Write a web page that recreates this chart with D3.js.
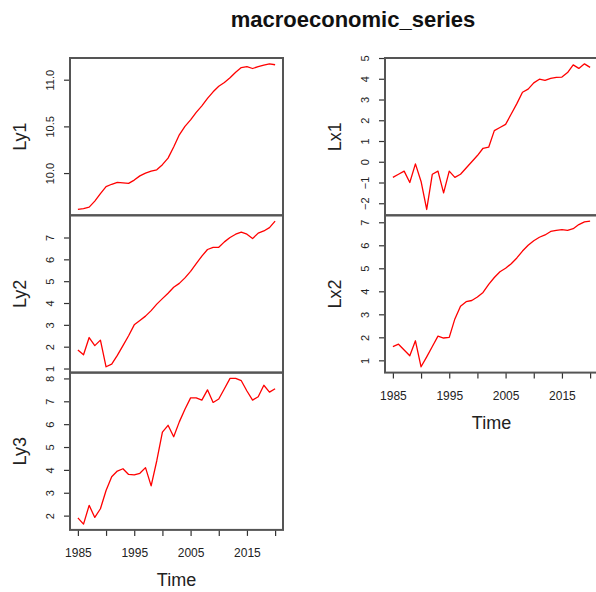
<!DOCTYPE html>
<html>
<head>
<meta charset="utf-8">
<script src="https://cdn.jsdelivr.net/npm/d3@7"></script>
<style>
  body { margin: 0; background: #fff; }
  svg { display: block; font-family: "Liberation Sans", Arial, sans-serif; }
</style>
</head>
<body>
<script>
// annual series, 1985..2020
const years = d3.range(1985, 2021);

const ly1 = [9.61, 9.62, 9.635, 9.70, 9.78, 9.855, 9.88, 9.90, 9.895, 9.89,
  9.925, 9.97, 10.0, 10.02, 10.035, 10.09, 10.16, 10.28, 10.41, 10.50,
  10.57, 10.65, 10.72, 10.80, 10.87, 10.93, 10.97, 11.02, 11.08, 11.13,
  11.14, 11.12, 11.14, 11.155, 11.17, 11.16];
const ly2 = [1.85, 1.63, 2.42, 2.05, 2.3, 1.08, 1.2, 1.6, 2.05, 2.5,
  3.0, 3.2, 3.4, 3.65, 3.95, 4.2, 4.45, 4.72, 4.9, 5.15,
  5.45, 5.8, 6.15, 6.45, 6.55, 6.55, 6.8, 7.0, 7.15, 7.25,
  7.15, 6.95, 7.2, 7.3, 7.45, 7.75];
const ly3 = [1.9, 1.63, 2.45, 1.92, 2.3, 3.1, 3.7, 3.95, 4.05, 3.8,
  3.78, 3.85, 4.1, 3.3, 4.4, 5.65, 5.95, 5.45, 6.1, 6.65,
  7.15, 7.15, 7.05, 7.5, 6.95, 7.1, 7.55, 8.0, 8.0, 7.9,
  7.45, 7.05, 7.2, 7.7, 7.4, 7.55];
const lx1 = [-0.75, -0.6, -0.45, -1.0, -0.1, -0.95, -2.3, -0.6, -0.45, -1.5,
  -0.45, -0.75, -0.6, -0.3, 0.0, 0.3, 0.65, 0.7, 1.5, 1.65,
  1.8, 2.3, 2.8, 3.35, 3.5, 3.8, 3.98, 3.92, 4.02, 4.07,
  4.08, 4.3, 4.67, 4.5, 4.72, 4.55];
const lx2 = [1.6, 1.7, 1.45, 1.2, 1.85, 0.72, 1.15, 1.6, 2.05, 1.97,
  2.0, 2.8, 3.35, 3.55, 3.6, 3.75, 3.95, 4.3, 4.6, 4.85,
  5.0, 5.2, 5.45, 5.75, 6.0, 6.2, 6.35, 6.45, 6.6, 6.65,
  6.68, 6.65, 6.72, 6.9, 7.02, 7.05];

const ly1Ticks = [10.0, 10.5, 11.0];
const ly2Ticks = [1, 2, 3, 4, 5, 6, 7];
const ly3Ticks = [2, 3, 4, 5, 6, 7, 8];
const lx1Ticks = [-2, -1, 0, 1, 2, 3, 4, 5];
const lx2Ticks = [1, 2, 3, 4, 5, 6, 7];

const xTicks = [1985, 1990, 1995, 2000, 2005, 2010, 2015, 2020];
const xLabels = [1985, 1995, 2005, 2015];

const title = "macroeconomic_series";

const width = 596, height = 592;
const colW = 213, rowH = 157.3, topY = 58;
const colX = [70, 385];

const panels = [
  {name: "Ly1", values: ly1, ticks: ly1Ticks, fmt: d3.format(".1f"), col: 0, row: 0},
  {name: "Ly2", values: ly2, ticks: ly2Ticks, fmt: d3.format("d"), col: 0, row: 1},
  {name: "Ly3", values: ly3, ticks: ly3Ticks, fmt: d3.format("d"), col: 0, row: 2, bottom: true},
  {name: "Lx1", values: lx1, ticks: lx1Ticks, fmt: d3.format("d"), col: 1, row: 0},
  {name: "Lx2", values: lx2, ticks: lx2Ticks, fmt: d3.format("d"), col: 1, row: 1, bottom: true}
];

const svg = d3.select("body").append("svg")
  .attr("width", width)
  .attr("height", height);

svg.append("text")
  .attr("x", 353)
  .attr("y", 27)
  .attr("text-anchor", "middle")
  .attr("font-size", 22)
  .attr("font-weight", "bold")
  .attr("fill", "#111")
  .text(title);

// R style: pad the data range by 4% on each side
function padded(ext) {
  const d = (ext[1] - ext[0]) * 0.04;
  return [ext[0] - d, ext[1] + d];
}

const xDomain = padded(d3.extent(years));

panels.forEach(function(p) {
  const x0 = colX[p.col];
  const y0 = topY + p.row * rowH;

  const x = d3.scaleLinear().domain(xDomain).range([x0, x0 + colW]);
  const y = d3.scaleLinear().domain(padded(d3.extent(p.values))).range([y0 + rowH, y0]);

  const g = svg.append("g");

  const line = d3.line()
    .x((d, i) => x(years[i]))
    .y(d => y(d));

  g.append("path")
    .datum(p.values)
    .attr("fill", "none")
    .attr("stroke", "#ff0000")
    .attr("stroke-width", 1.3)
    .attr("stroke-linejoin", "round")
    .attr("d", line);

  // y axis with rotated labels
  const ya = g.append("g")
    .attr("transform", "translate(" + x0 + ",0)")
    .call(d3.axisLeft(y).tickValues(p.ticks).tickSize(6).tickFormat(p.fmt));
  ya.select(".domain").remove();
  ya.selectAll("line").attr("stroke", "#333").attr("stroke-width", 1.2);
  ya.selectAll("text")
    .attr("transform", "rotate(-90)")
    .attr("x", 0)
    .attr("y", -16)
    .attr("dy", 0)
    .attr("text-anchor", "middle")
    .attr("font-size", 11)
    .attr("font-family", "Liberation Sans, Arial, sans-serif")
    .attr("fill", "#222");

  g.append("text")
    .attr("transform", "translate(" + (x0 - 44) + "," + (y0 + rowH / 2) + ") rotate(-90)")
    .attr("text-anchor", "middle")
    .attr("font-size", 18)
    .attr("fill", "#222")
    .text(p.name);

  if (p.bottom) {
    const xa = g.append("g")
      .attr("transform", "translate(0," + (y0 + rowH) + ")")
      .call(d3.axisBottom(x).tickValues(xTicks).tickSize(6)
        .tickFormat(d => xLabels.includes(d) ? String(d) : ""));
    xa.select(".domain").remove();
    xa.selectAll("line").attr("stroke", "#333").attr("stroke-width", 1.2);
    xa.selectAll("text")
      .attr("y", 27)
      .attr("dy", 0)
      .attr("font-size", 12)
      .attr("font-family", "Liberation Sans, Arial, sans-serif")
      .attr("fill", "#222");

    g.append("text")
      .attr("x", x0 + colW / 2)
      .attr("y", y0 + rowH + 56)
      .attr("text-anchor", "middle")
      .attr("font-size", 18)
      .attr("fill", "#222")
      .text("Time");
  }

  g.append("rect")
    .attr("x", x0)
    .attr("y", y0)
    .attr("width", colW)
    .attr("height", rowH)
    .attr("fill", "none")
    .attr("stroke", "#555")
    .attr("stroke-width", 2);
});
</script>
</body>
</html>
